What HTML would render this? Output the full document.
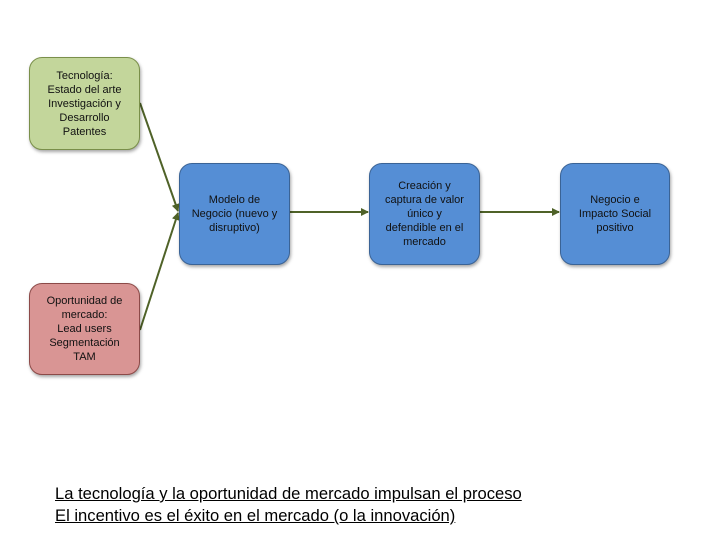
<!DOCTYPE html>
<html><head><meta charset="utf-8"><style>
body{margin:0;width:720px;height:540px;background:#fff;position:relative;font-family:"Liberation Sans",sans-serif;overflow:hidden}
.b{position:absolute;box-sizing:border-box;border-radius:13px;display:flex;align-items:center;justify-content:center;text-align:center;font-size:11px;line-height:14px;color:#111;box-shadow:1px 2px 3px rgba(0,0,0,.35)}
.g{background:#c3d69b;border:1px solid #7a8f4a}
.r{background:#d99594;border:1px solid #8c4a48}
.bl{background:#558ed5;border:1px solid #3a6396}
.t{position:absolute;left:55px;font-size:16.6px;text-decoration:underline;color:#000;white-space:nowrap}
</style></head><body>
<svg width="720" height="540" style="position:absolute;left:0;top:0">
<defs><marker id="a" markerWidth="4" markerHeight="4" refX="3.5" refY="2" orient="auto"><path d="M0,0L4,2L0,4z" fill="#4f6228"/></marker></defs>
<g stroke="#4f6228" stroke-width="2" fill="none" marker-end="url(#a)">
<line x1="140" y1="103" x2="178" y2="211"/>
<line x1="140" y1="330" x2="178" y2="213"/>
<line x1="290" y1="212" x2="368" y2="212"/>
<line x1="480" y1="212" x2="559" y2="212"/>
</g></svg>
<div class="b g" style="left:29px;top:57px;width:111px;height:93px">Tecnología:<br>Estado del arte<br>Investigación y<br>Desarrollo<br>Patentes</div>
<div class="b r" style="left:29px;top:283px;width:111px;height:92px">Oportunidad de<br>mercado:<br>Lead users<br>Segmentación<br>TAM</div>
<div class="b bl" style="left:179px;top:163px;width:111px;height:102px">Modelo de<br>Negocio (nuevo y<br>disruptivo)</div>
<div class="b bl" style="left:369px;top:163px;width:111px;height:102px">Creación y<br>captura de valor<br>único y<br>defendible en el<br>mercado</div>
<div class="b bl" style="left:560px;top:163px;width:110px;height:102px">Negocio e<br>Impacto Social<br>positivo</div>
<div class="t" style="top:484px">La tecnología y la oportunidad de mercado impulsan el proceso</div>
<div class="t" style="top:506px">El incentivo es el éxito en el mercado (o la innovación)</div>
</body></html>
